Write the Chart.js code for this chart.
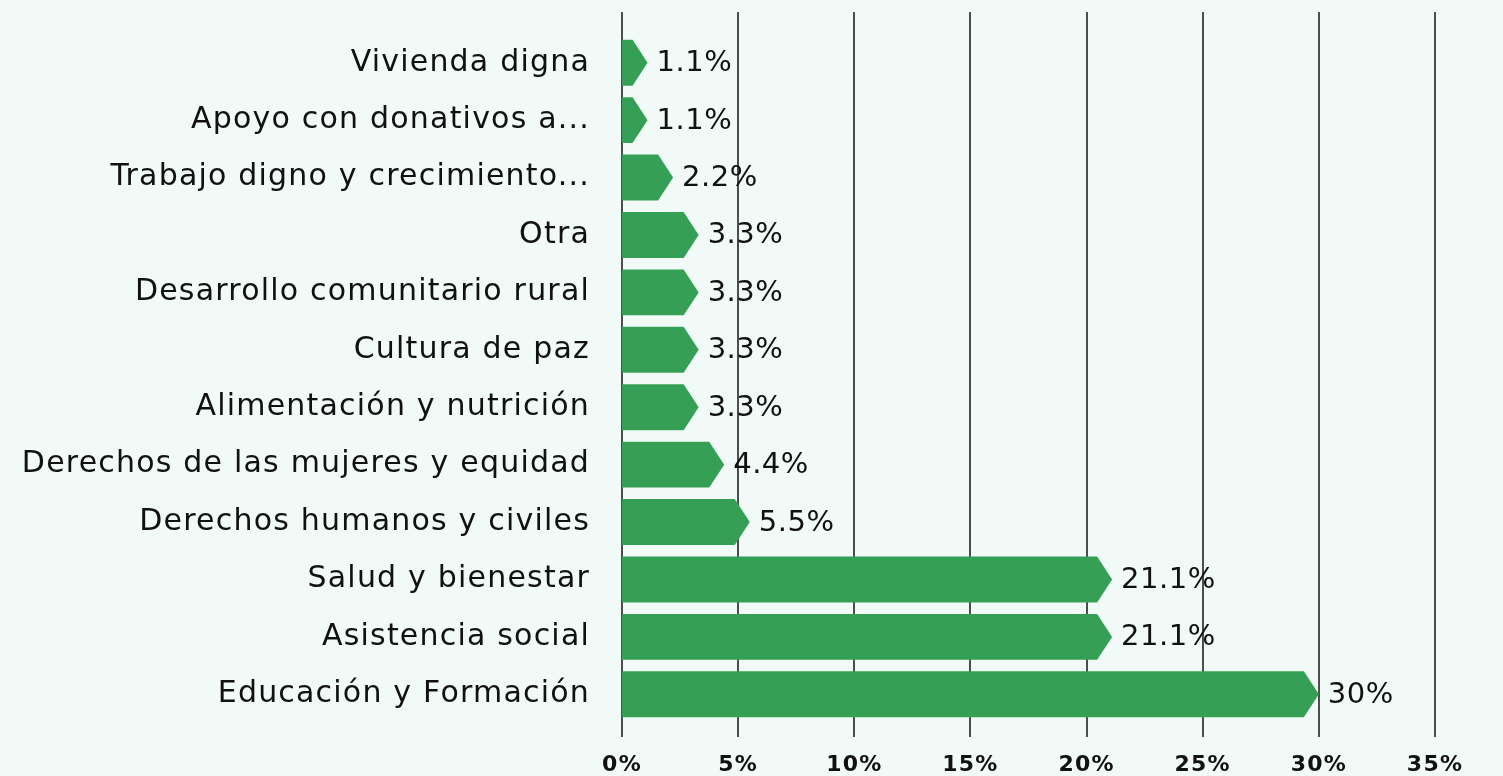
<!DOCTYPE html>
<html>
<head>
<meta charset="utf-8">
<script src="https://cdn.jsdelivr.net/npm/chart.js@4"></script>
<style>
  html, body { margin: 0; padding: 0; background: #f2faf8; }
  #wrap { width: 1503px; height: 776px; }
</style>
</head>
<body>
<div id="wrap"><canvas id="myChart"></canvas></div>
<script>
const categories = [
  'Vivienda digna',
  'Apoyo con donativos a...',
  'Trabajo digno y crecimiento...',
  'Otra',
  'Desarrollo comunitario rural',
  'Cultura de paz',
  'Alimentación y nutrición',
  'Derechos de las mujeres y equidad',
  'Derechos humanos y civiles',
  'Salud y bienestar',
  'Asistencia social',
  'Educación y Formación'
];
const values = [1.1, 1.1, 2.2, 3.3, 3.3, 3.3, 3.3, 4.4, 5.5, 21.1, 21.1, 30];
const valueLabels = ['1.1%', '1.1%', '2.2%', '3.3%', '3.3%', '3.3%', '3.3%', '4.4%', '5.5%', '21.1%', '21.1%', '30%'];
const xTicks = [0, 5, 10, 15, 20, 25, 30, 35];

const green = '#35a055';
const font = '"DejaVu Sans", sans-serif';

// wider text, closer to the original typeface
const spacing = {
  id: 'spacing',
  beforeLayout(chart) { chart.ctx.letterSpacing = '1.2px'; },
  beforeDraw(chart) { chart.ctx.letterSpacing = '1.2px'; }
};

// arrow shaped bars + value labels
const arrows = {
  id: 'arrows',
  beforeDatasetsDraw(chart) {
    const c = chart.ctx;
    const xs = chart.scales.x;
    c.save();
    c.strokeStyle = '#4d4d4d';
    c.lineWidth = 2;
    xTicks.forEach(t => {
      const px = Math.round(xs.getPixelForValue(t));
      c.beginPath();
      c.moveTo(px, 12);
      c.lineTo(px, chart.chartArea.bottom + 14);
      c.stroke();
    });
    c.restore();
  },
  afterDatasetsDraw(chart) {
    const c = chart.ctx;
    const meta = chart.getDatasetMeta(0);
    c.save();
    c.letterSpacing = '0.5px';
    meta.data.forEach((bar, i) => {
      const h = bar.height / 2;
      const tip = 15;
      const body = Math.max(bar.base, bar.x - tip);
      c.fillStyle = green;
      c.beginPath();
      c.moveTo(bar.base, bar.y - h);
      c.lineTo(body, bar.y - h);
      c.lineTo(bar.x, bar.y);
      c.lineTo(body, bar.y + h);
      c.lineTo(bar.base, bar.y + h);
      c.closePath();
      c.fill();

      c.fillStyle = '#111';
      c.font = '29px ' + font;
      c.textBaseline = 'middle';
      c.textAlign = 'left';
      c.fillText(valueLabels[i], bar.x + 9, bar.y + 1);
    });
    c.restore();
  }
};

new Chart(document.querySelector('#myChart'), {
  type: 'bar',
  data: {
    labels: categories,
    datasets: [{
      data: values,
      backgroundColor: 'rgba(0,0,0,0)',
      borderWidth: 0,
      categoryPercentage: 0.8,
      barPercentage: 1
    }]
  },
  options: {
    indexAxis: 'y',
    responsive: true,
    maintainAspectRatio: false,
    animation: false,
    layout: {
      padding: { top: 34, right: 68, bottom: 0, left: 0 }
    },
    plugins: {
      legend: { display: false },
      tooltip: { enabled: false }
    },
    scales: {
      x: {
        min: 0,
        max: 35,
        afterBuildTicks: (scale) => {
          scale.ticks = xTicks.map(v => ({ value: v }));
        },
        afterFit: (scale) => { scale.height = 53; },
        grid: { display: false, drawTicks: false },
        border: { display: false },
        ticks: {
          color: '#111',
          padding: 29,
          font: { family: font, size: 22, weight: 'bold' },
          callback: (v) => v + '%',
          maxRotation: 0
        }
      },
      y: {
        grid: { display: false },
        border: { display: false },
        afterFit: (scale) => {
          scale.width = 622;
          scale.paddingTop = 0;
          scale.paddingBottom = 0;
        },
        ticks: {
          color: '#111',
          padding: 24,
          font: { family: font, size: 30 }
        }
      }
    }
  },
  plugins: [spacing, arrows]
});
</script>
</body>
</html>
